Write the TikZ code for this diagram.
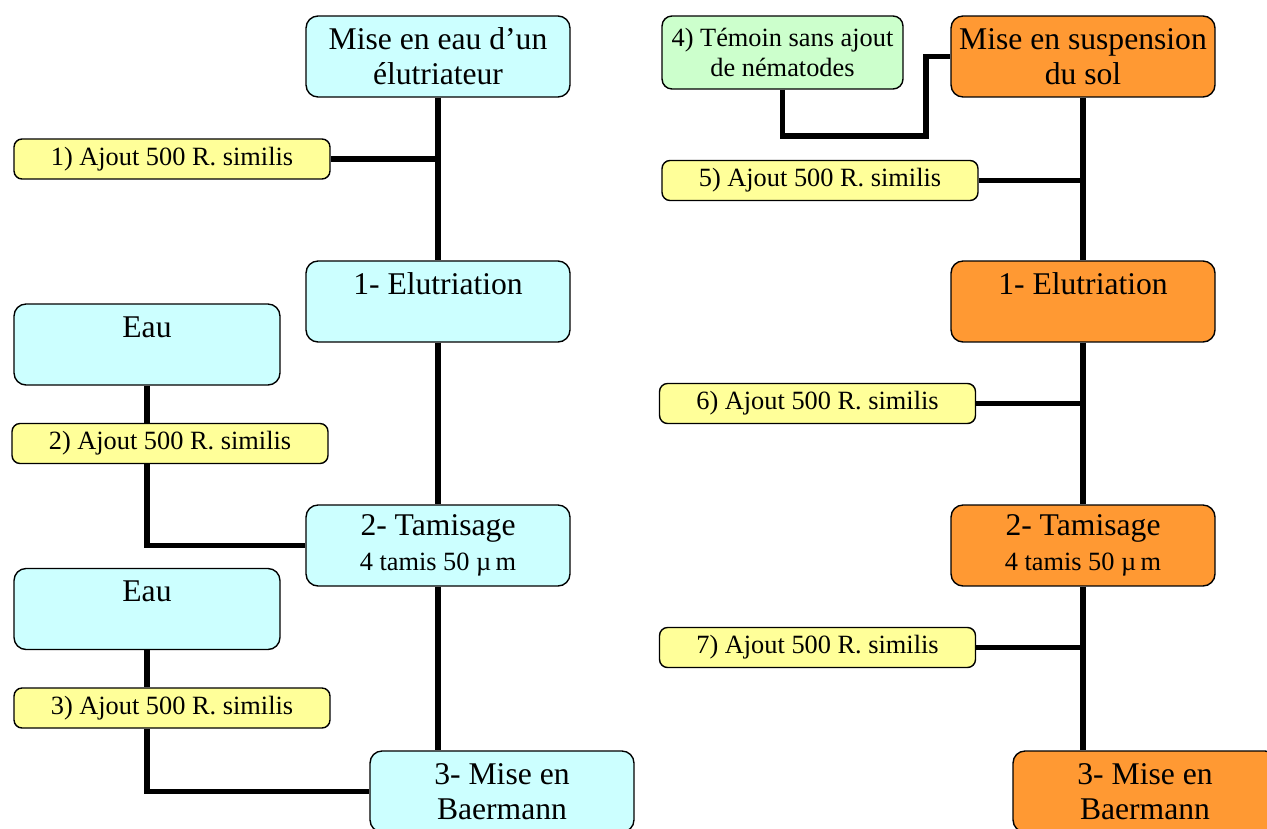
\documentclass[tikz,border=0pt]{standalone}
\usepackage{fontspec}
\setmainfont{Liberation Serif}
\definecolor{bleu}{HTML}{CCFFFF}
\definecolor{jaune}{HTML}{FFFF99}
\definecolor{vert}{HTML}{CCFFCC}
\definecolor{orange}{HTML}{FF9933}

\begin{document}
\begin{tikzpicture}[x=0.02cm, y=-0.02cm,
	etape/.style={draw, line width=0.8pt, rounded corners=0.24cm, align=center, inner sep=0pt,
		minimum width=5.28cm, minimum height=1.62cm, font=\fontsize{18}{20}\selectfont},
	ajout/.style={draw, fill=jaune, line width=0.8pt, rounded corners=0.16cm, inner sep=0pt,
		minimum width=6.32cm, minimum height=0.8cm, font=\fontsize{15}{17}\selectfont},
	lien/.style={line width=3pt}]
	\useasboundingbox (0,0) rectangle (1267,828);
	\clip (0,0) rectangle (1267,828);

	\node[etape, fill=bleu] at (438,56.5) (mise) {Mise en eau d’un\\élutriateur};
	\node[ajout] at (172,159) (aj1) {1) Ajout 500 R. similis};
	\node[etape, fill=bleu] at (438,301.5) (elu) {1- Elutriation\\\mbox{}};
	\node[etape, fill=bleu, minimum width=5.32cm] at (147,344.5) (eau1) {Eau\\\mbox{}};
	\node[ajout] at (170,443.5) (aj2) {2) Ajout 500 R. similis};
	\node[etape, fill=bleu] at (438,545.5) (tam) {2- Tamisage\\\fontsize{15}{20}\selectfont 4 tamis 50 µ\,m};
	\node[etape, fill=bleu, minimum width=5.32cm] at (147,609) (eau2) {Eau\\\mbox{}};
	\node[ajout] at (172,708) (aj3) {3) Ajout 500 R. similis};
	\node[etape, fill=bleu] at (502,791.5) (baer) {3- Mise en\\Baermann};

	\draw[lien] (mise) -- (elu);
	\draw[lien] (elu) -- (tam);
	\draw[lien] (tam.south) -- (tam.south |- baer.north);
	\draw[lien] (aj1.east) -- (aj1.east -| mise.south);
	\draw[lien] (eau1.south) -- (eau1.south |- aj2.north);
	\draw[lien] (aj2.south -| eau1.south) |- (tam.west);
	\draw[lien] (eau2.south) -- (eau2.south |- aj3.north);
	\draw[lien] (aj3.south -| eau2.south) |- (baer.west);

	\node[etape, fill=vert, minimum width=4.82cm, minimum height=1.46cm, rounded corners=0.2cm,
		font=\fontsize{15}{17}\selectfont] at (782.5,52.5) (temoin) {4) Témoin sans ajout\\de nématodes};
	\node[etape, fill=orange] at (1083,56.5) (susp) {Mise en suspension\\du sol};
	\node[ajout] at (820,180.5) (aj5) {5) Ajout 500 R. similis};
	\node[etape, fill=orange] at (1083,301.5) (elu2) {1- Elutriation\\\mbox{}};
	\node[ajout] at (817.5,403.5) (aj6) {6) Ajout 500 R. similis};
	\node[etape, fill=orange] at (1083,545.5) (tam2) {2- Tamisage\\\fontsize{15}{20}\selectfont 4 tamis 50 µ\,m};
	\node[ajout] at (817.5,647.5) (aj7) {7) Ajout 500 R. similis};
	\node[etape, fill=orange] at (1145,791.5) (baer2) {3- Mise en\\Baermann};
	\coordinate (coude) at (926,136);

	\draw[lien] (temoin.south) |- (coude) |- (susp.west);
	\draw[lien] (susp) -- (elu2);
	\draw[lien] (elu2) -- (tam2);
	\draw[lien] (tam2.south) -- (tam2.south |- baer2.north);
	\draw[lien] (aj5.east) -- (aj5.east -| susp.south);
	\draw[lien] (aj6.east) -- (aj6.east -| susp.south);
	\draw[lien] (aj7.east) -- (aj7.east -| susp.south);
\end{tikzpicture}
\end{document}
